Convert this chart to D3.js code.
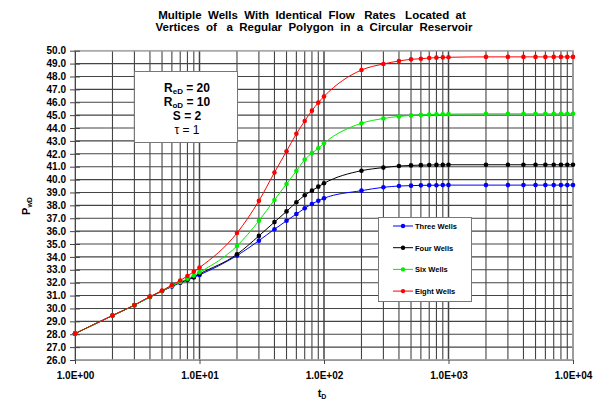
<!DOCTYPE html>
<html>
<head>
<meta charset="utf-8">
<script src="https://cdn.jsdelivr.net/npm/d3@7"></script>
<style>
  body { margin: 0; background: #fff; }
  svg { display: block; font-family: "Liberation Sans", Arial, sans-serif; }
</style>
</head>
<body>
<div id="chart"></div>
<script>
// dimensionless time
const tD = [1, 2, 3, 4, 5, 6, 7, 8, 9, 10,
    20, 30, 40, 50, 60, 70, 80, 90, 100,
    200, 300, 400, 500, 600, 700, 800, 900, 1000,
    2000, 3000, 4000, 5000, 6000, 7000, 8000, 9000, 10000]

const threeWells = [28.05, 29.45, 30.25, 30.9, 31.35, 31.7, 32.0, 32.2, 32.4, 32.6,
    34.1, 35.26, 36.15, 36.8, 37.33, 37.77, 38.11, 38.36, 38.55,
    39.14, 39.4, 39.5, 39.53, 39.55, 39.56, 39.56, 39.57, 39.57,
    39.57, 39.57, 39.57, 39.57, 39.57, 39.57, 39.57, 39.57, 39.57]

const fourWells = [28.05, 29.45, 30.25, 30.9, 31.35, 31.72, 32.02, 32.25, 32.45, 32.68,
    34.2, 35.63, 36.7, 37.53, 38.24, 38.78, 39.14, 39.45, 39.71,
    40.69, 40.93, 41.05, 41.1, 41.12, 41.13, 41.14, 41.14, 41.15,
    41.15, 41.15, 41.15, 41.15, 41.15, 41.15, 41.15, 41.15, 41.15]

const sixWells = [28.05, 29.45, 30.25, 30.9, 31.35, 31.75, 32.05, 32.3, 32.55, 32.8,
    34.85, 36.8, 38.42, 39.66, 40.67, 41.55, 42.05, 42.43, 42.82,
    44.37, 44.74, 44.9, 44.98, 45.02, 45.04, 45.06, 45.07, 45.08,
    45.1, 45.1, 45.1, 45.1, 45.1, 45.1, 45.1, 45.1, 45.1]

const eightWells = [28.05, 29.45, 30.27, 30.92, 31.38, 31.82, 32.17, 32.52, 32.85, 33.17,
    35.85, 38.35, 40.55, 42.2, 43.55, 44.55, 45.35, 45.97, 46.45,
    48.5, 48.97, 49.2, 49.33, 49.38, 49.43, 49.46, 49.48, 49.49,
    49.52, 49.52, 49.52, 49.52, 49.52, 49.52, 49.52, 49.52, 49.52]

const seriesNames = ["Three Wells", "Four Wells", "Six Wells", "Eight Wells"]
const seriesColors = ["#0000ff", "#000000", "#00ee00", "#ff0000"]
const seriesValues = [threeWells, fourWells, sixWells, eightWells]

const xTickValues = [1, 10, 100, 1000, 10000]
const yTickValues = d3.range(26, 51, 1)

const paramLines = ["R|eD| = 20", "R|oD| = 10", "S = 2", "τ = 1"]

const width = 604,
    height = 400
const margin = ({ top: 50.7, right: 31, bottom: 40, left: 75 })

const x = d3.scaleLog()
    .domain([1, 10000])
    .range([margin.left, width - margin.right])

const y = d3.scaleLinear()
    .domain([26, 50])
    .range([height - margin.bottom, margin.top])

const svg = d3.select("#chart").append("svg")
    .attr("width", width)
    .attr("height", height)

// title
const title = svg.append("text")
    .attr("text-anchor", "middle")
    .attr("font-size", 11.5)
    .attr("font-weight", "bold")
    .style("white-space", "pre")
title.append("tspan").attr("x", 312).attr("y", 18.5)
    .text("Multiple  Wells  With  Identical  Flow   Rates   Located  at")
title.append("tspan").attr("x", 314).attr("y", 31)
    .text("Vertices  of   a  Regular  Polygon  in  a  Circular  Reservoir")

// gridlines
const minorX = []
for (let d = 1; d < 10000; d *= 10) {
    for (let k = 2; k <= 10; k++) minorX.push(d * k)
}
svg.append("g").selectAll("line")
    .data(minorX)
    .join("line")
    .attr("x1", d => x(d)).attr("x2", d => x(d))
    .attr("y1", y(50)).attr("y2", y(26))
    .attr("stroke", "#444")
    .attr("stroke-width", d => xTickValues.includes(d) ? 1.5 : 1.1)

svg.append("g").selectAll("line")
    .data(yTickValues)
    .join("line")
    .attr("x1", x(1)).attr("x2", x(10000))
    .attr("y1", d => y(d)).attr("y2", d => y(d))
    .attr("stroke", "#444")
    .attr("stroke-width", 1.1)

// plot frame
svg.append("rect")
    .attr("x", x(1)).attr("y", y(50))
    .attr("width", x(10000) - x(1))
    .attr("height", y(26) - y(50))
    .attr("fill", "none")
    .attr("stroke", "#aaa")
    .attr("stroke-width", 1.5)

// axes
const yAxis = svg.append("g")
    .attr("transform", `translate(${margin.left},0)`)
    .call(d3.axisLeft(y).tickValues(yTickValues).tickFormat(d3.format(".1f")).tickSize(5).tickSizeOuter(0))
yAxis.selectAll(".tick line").attr("x2", 5).attr("x1", -5).attr("stroke", "#444")
yAxis.select(".domain").attr("stroke", "#444")
yAxis.selectAll("text")
    .attr("x", -9)
    .attr("font-size", 10)
    .attr("font-weight", "bold")
    .attr("font-family", "Liberation Sans, Arial, sans-serif")

const xAxis = svg.append("g")
    .attr("transform", `translate(0,${y(26)})`)
    .call(d3.axisBottom(x).tickValues(xTickValues).tickFormat(d => d3.format(".1e")(d).replace("e+", "E+0")).tickSize(4).tickSizeOuter(0))
xAxis.select(".domain").attr("stroke", "#999")
xAxis.selectAll(".tick line").attr("stroke", "#444")
xAxis.selectAll("text")
    .attr("y", 12)
    .attr("font-size", 10)
    .attr("font-weight", "bold")
    .attr("font-family", "Liberation Sans, Arial, sans-serif")

// axis titles
const xt = svg.append("text")
    .attr("x", 322).attr("y", 397)
    .attr("text-anchor", "middle")
    .attr("font-size", 11)
    .attr("font-weight", "bold")
xt.append("tspan").text("t")
xt.append("tspan").attr("font-size", 7).attr("dy", 2).text("D")

const yt = svg.append("text")
    .attr("transform", "translate(30,206) rotate(-90)")
    .attr("text-anchor", "middle")
    .attr("font-size", 11)
    .attr("font-weight", "bold")
yt.append("tspan").text("P")
yt.append("tspan").attr("font-size", 7).attr("dy", 2).text("wD")

// series
const line = d3.line()
    .x(d => x(d[0]))
    .y(d => y(d[1]))
    .curve(d3.curveMonotoneX)

seriesValues.forEach((vals, i) => {
    const pts = tD.map((t, j) => [t, vals[j]])
    const g = svg.append("g")
    g.append("path")
        .datum(pts)
        .attr("fill", "none")
        .attr("stroke", seriesColors[i])
        .attr("stroke-width", 1)
        .attr("d", line)
    g.selectAll("circle")
        .data(pts)
        .join("circle")
        .attr("cx", d => x(d[0]))
        .attr("cy", d => y(d[1]))
        .attr("r", 2.3)
        .attr("fill", seriesColors[i])
})

// parameter box
svg.append("rect")
    .attr("x", 134.5).attr("y", 71.5)
    .attr("width", 103).attr("height", 71)
    .attr("fill", "#fff")
    .attr("stroke", "#777")
paramLines.forEach((s, i) => {
    const parts = s.split("|")
    const t = svg.append("text")
        .attr("x", 187).attr("y", 92 + i * 14)
        .attr("text-anchor", "middle")
        .attr("font-size", 12)
        .attr("font-weight", i === 3 ? "normal" : "bold")
    t.append("tspan").text(parts[0])
    if (parts.length > 1) {
        t.append("tspan").attr("font-size", 8).attr("dy", 2).text(parts[1])
        t.append("tspan").attr("dy", -2).text(parts[2])
    }
})

// legend
svg.append("rect")
    .attr("x", 378.5).attr("y", 217.5)
    .attr("width", 93).attr("height", 84)
    .attr("fill", "#fff")
    .attr("stroke", "#777")
seriesNames.forEach((name, i) => {
    const ly = 226 + i * 21.7
    svg.append("line")
        .attr("x1", 393).attr("x2", 413)
        .attr("y1", ly).attr("y2", ly)
        .attr("stroke", seriesColors[i])
    svg.append("circle")
        .attr("cx", 403).attr("cy", ly).attr("r", 2.2)
        .attr("fill", seriesColors[i])
    svg.append("text")
        .attr("x", 415).attr("y", ly + 3)
        .attr("font-size", 7.5)
        .attr("font-weight", "bold")
        .text(name)
})
</script>
</body>
</html>
